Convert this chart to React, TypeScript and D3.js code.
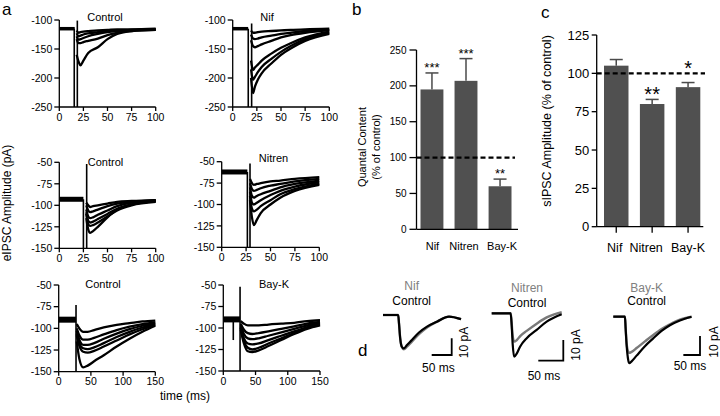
import React from 'react';
import * as d3 from 'd3';

const FONT = "'Liberation Sans', Arial, Helvetica, sans-serif";

// ---------- Panel a: eIPSC traces (time ms, amplitude pA) ----------
const aTLTime = [18, 20, 22, 25, 30, 40, 50, 60, 75, 100];
const aTLTraces = [
  [-118, -122, -121, -120, -119, -118, -117, -116, -116, -115],
  [-123, -128, -127, -125, -123, -121, -119, -118, -117, -116],
  [-128, -134, -133, -131, -128, -124, -121, -119, -117, -116],
  [-133, -140, -140, -138, -136, -132, -126, -122, -119, -117],
  [-160, -172, -178, -170, -157, -147, -133, -124, -119, -117],
];
const aTRTime = [19, 21, 23, 26, 30, 40, 50, 60, 75, 100];
const aTRTraces = [
  [-118, -122, -122, -121, -120, -119, -118, -117, -116, -115],
  [-125, -132, -133, -132, -130, -127, -124, -122, -119, -117],
  [-135, -145, -147, -145, -142, -136, -130, -126, -122, -118],
  [-170, -186, -182, -177, -170, -158, -148, -140, -130, -120],
  [-185, -203, -198, -190, -181, -167, -155, -145, -133, -122],
  [-200, -226, -215, -203, -192, -175, -160, -149, -136, -124],
];
const aMLTime = [28, 30, 32, 35, 40, 50, 60, 75, 100];
const aMLTraces = [
  [-97, -100, -102, -101, -100, -98, -96, -95, -94],
  [-100, -106, -108, -107, -105, -101, -98, -96, -94],
  [-105, -113, -115, -114, -111, -106, -101, -97, -95],
  [-108, -118, -120, -119, -116, -110, -104, -99, -95],
  [-110, -122, -124, -123, -120, -113, -106, -100, -96],
  [-115, -128, -132, -130, -125, -114, -105, -99, -95],
];
const aMRTime = [29, 31, 33, 36, 40, 50, 60, 75, 100];
const aMRTraces = [
  [-70, -75, -77, -76, -75, -73, -72, -70, -68],
  [-75, -82, -84, -83, -81, -78, -76, -73, -70],
  [-80, -90, -92, -90, -88, -84, -80, -76, -72],
  [-85, -98, -100, -98, -95, -89, -84, -79, -74],
  [-90, -105, -108, -106, -102, -95, -88, -82, -76],
  [-95, -115, -124, -118, -110, -100, -92, -84, -77],
];
const aBLTime = [28, 32, 38, 45, 55, 70, 90, 110, 130, 150];
const aBLTraces = [
  [-95, -100, -104, -104, -102, -99, -96, -94, -92, -91],
  [-100, -108, -113, -113, -111, -107, -102, -98, -95, -93],
  [-103, -113, -119, -119, -117, -112, -106, -101, -97, -94],
  [-106, -117, -123, -124, -122, -117, -110, -104, -99, -95],
  [-108, -120, -127, -128, -126, -121, -114, -107, -101, -96],
  [-115, -135, -145, -143, -138, -131, -121, -112, -104, -97],
];
const aBRTime = [27, 32, 38, 45, 55, 70, 90, 110, 130, 150];
const aBRTraces = [
  [-92, -95, -97, -97, -97, -96, -95, -94, -92, -91],
  [-95, -102, -106, -107, -106, -104, -101, -98, -95, -93],
  [-97, -107, -112, -113, -112, -109, -105, -101, -97, -94],
  [-99, -112, -118, -119, -118, -114, -109, -104, -99, -95],
  [-100, -115, -123, -125, -123, -118, -112, -106, -100, -96],
  [-102, -118, -127, -128, -126, -121, -114, -107, -101, -97],
];
const aTicks100 = [0, 25, 50, 75, 100];
const aTicks150 = [0, 50, 100, 150];
const aYTicksTop = [-100, -150, -200, -250];
const aYTicksLow = [-50, -75, -100, -125, -150];

// ---------- Panel b: quantal content ----------
const drugs = ['Nif', 'Nitren', 'Bay-K'];
const quantalMean = [195, 207, 60];
const quantalErr = [23, 31, 10];
const quantalStars = ['***', '***', '**'];
const quantalTicks = [0, 50, 100, 150, 200, 250];

// ---------- Panel c: sIPSC amplitude ----------
const sipscMean = [105, 80, 91];
const sipscErr = [4, 3, 3];
const sipscStars = ['', '**', '*'];
const sipscTicks = [0, 25, 50, 75, 100, 125];

// ---------- Panel d: averaged sIPSCs ----------
const d1Time = [0, 38, 40, 43, 47, 52, 60, 70, 90, 110, 135, 165, 195];
const d1Control = [0, 0, -5, -14, -19, -20, -18, -15.5, -10.5, -7, -4, -1, -2.5];
const d1Drug = [0, 0, -5, -14, -19, -20.5, -19, -16.5, -11.5, -7.5, -4, -1, -2.5];
const d2Time = [0, 38, 40, 42, 45, 50, 57, 70, 90, 110, 125, 140];
const d2Control = [0, 0, -6, -15, -21, -19.5, -16, -12, -8, -4, -2, -0.5];
const d2Drug = [0, 0, -5, -11, -13.7, -13, -11, -8.5, -5, -2, -0.5, 0.5];
const d3Time = [0, 35, 37, 40, 45, 48, 55, 70, 95, 120, 145, 170, 200, 235];
const d3Control = [0, 0, -6, -15, -23, -24.5, -23.5, -20.5, -15.5, -11.4, -7.5, -4.5, -2, 0];
const d3Drug = [0, 0, -6, -14, -18.5, -19, -18.5, -16.5, -13, -9.6, -6.5, -4, -1.5, 0];

type TP = {
  xr: [number, number]; yr: [number, number]; xd: [number, number]; yd: [number, number];
  xTicks: number[]; yTicks: number[]; title: string; tx: number; ty: number;
  time: number[]; traces: number[][]; baseline: number; baseEnd: number;
  artifacts: [number, number, number][]; baseW: number;
};

function TracePanel(p: TP) {
  const x = d3.scaleLinear().domain(p.xd).range(p.xr);
  const y = d3.scaleLinear().domain(p.yd).range(p.yr);
  const line = d3.line<[number, number]>().x(d => x(d[0])).y(d => y(d[1])).curve(d3.curveMonotoneX);
  const ax = p.xr[0];
  const ay = p.yr[0];
  return (
    <g>
      <line x1={x(0)} x2={x(p.baseEnd)} y1={y(p.baseline)} y2={y(p.baseline)} stroke="#000" strokeWidth={p.baseW} />
      {p.artifacts.map((a, i) => (
        <line key={i} x1={x(a[0])} x2={x(a[0])} y1={y(a[1])} y2={y(a[2])} stroke="#000" strokeWidth={1.6} />
      ))}
      {p.traces.map((tr, i) => (
        <path key={i} d={line(p.time.map((t, j) => [t, tr[j]] as [number, number])) || ''} fill="none" stroke="#000" strokeWidth={2.3} />
      ))}
      <line x1={ax} x2={ax} y1={p.yr[1]} y2={ay} stroke="#000" strokeWidth={1.3} />
      <line x1={ax} x2={p.xr[1]} y1={ay} y2={ay} stroke="#000" strokeWidth={1.3} />
      {p.yTicks.map(t => (
        <g key={t}>
          <line x1={ax - 5} x2={ax} y1={y(t)} y2={y(t)} stroke="#000" strokeWidth={1.3} />
          <text x={ax - 7} y={y(t)} dy="0.36em" textAnchor="end" fontSize={10.5}>{t}</text>
        </g>
      ))}
      {p.xTicks.map(t => (
        <g key={t}>
          <line x1={x(t)} x2={x(t)} y1={ay} y2={ay + 4} stroke="#000" strokeWidth={1.3} />
          <text x={x(t)} y={ay + 13.5} textAnchor="middle" fontSize={10.5}>{t}</text>
        </g>
      ))}
      <text x={p.tx} y={p.ty} dy="0.36em" textAnchor="middle" fontSize={11}>{p.title}</text>
    </g>
  );
}

type BP = {
  axisX: number; axisEnd: number; yTop: number; yBot: number; domainMax: number;
  bandRange: [number, number]; pad: number; means: number[]; errs: number[]; stars: string[];
  ticks: number[]; tickFont: number; tickLen: number; tickGap: number; labelFont: number; labelY: number; labelShift: number[];
  starFont: number; starOffset: number[]; xTickMarks: boolean; dashEnd: number; capW: number;
};

function BarPanel(p: BP) {
  const y = d3.scaleLinear().domain([0, p.domainMax]).range([p.yBot, p.yTop]);
  const x = d3.scaleBand().domain(drugs).range(p.bandRange).paddingInner(p.pad).paddingOuter(0);
  const bw = x.bandwidth();
  return (
    <g>
      {drugs.map((d, i) => {
        const cx = (x(d) || 0) + bw / 2;
        const top = y(p.means[i]);
        const cap = y(p.means[i] + p.errs[i]);
        return (
          <g key={d}>
            <line x1={cx} x2={cx} y1={top} y2={cap} stroke="#4a4a4a" strokeWidth={1.5} />
            <line x1={cx - p.capW / 2} x2={cx + p.capW / 2} y1={cap} y2={cap} stroke="#4a4a4a" strokeWidth={1.5} />
            <rect x={x(d)} y={top} width={bw} height={p.yBot - top} fill="#505050" />
            {p.stars[i] && (
              <text x={cx} y={cap + p.starOffset[i]} textAnchor="middle" fontSize={p.starFont}>{p.stars[i]}</text>
            )}
            {p.xTickMarks && <line x1={cx} x2={cx} y1={p.yBot} y2={p.yBot + 6} stroke="#000" strokeWidth={1.3} />}
            <text x={cx + p.labelShift[i]} y={p.labelY} textAnchor="middle" fontSize={p.labelFont}>{d}</text>
          </g>
        );
      })}
      <line x1={p.axisX} x2={p.dashEnd} y1={y(100)} y2={y(100)} stroke="#000" strokeWidth={2.4} strokeDasharray="5,3" />
      <line x1={p.axisX} x2={p.axisX} y1={p.yTop} y2={p.yBot} stroke="#000" strokeWidth={1.3} />
      <line x1={p.axisX} x2={p.axisEnd} y1={p.yBot} y2={p.yBot} stroke="#000" strokeWidth={1.3} />
      {p.ticks.map(t => (
        <g key={t}>
          <line x1={p.axisX - p.tickLen} x2={p.axisX} y1={y(t)} y2={y(t)} stroke="#000" strokeWidth={1.3} />
          <text x={p.axisX - p.tickGap} y={y(t)} dy="0.36em" textAnchor="end" fontSize={p.tickFont}>{t}</text>
        </g>
      ))}
    </g>
  );
}

type DP = {
  x0: number; y0: number; msPx: number; pAPx: number; time: number[]; ctrl: number[]; drug: number[];
  drugName: string; labelX: number; drugY: number; ctrlY: number;
  barX: number; barY: number; msText: [number, number]; pAText: [number, number];
};

function AvgTrace(p: DP) {
  const x = d3.scaleLinear().domain([0, 1]).range([p.x0, p.x0 + p.msPx]);
  const y = d3.scaleLinear().domain([0, -1]).range([p.y0, p.y0 + p.pAPx]);
  const line = d3.line<[number, number]>().x(d => x(d[0])).y(d => y(d[1])).curve(d3.curveMonotoneX);
  const sx = d3.scaleLinear().domain([0, 50]).range([0, 50 * p.msPx]);
  const sy = d3.scaleLinear().domain([0, 10]).range([0, 10 * p.pAPx]);
  return (
    <g>
      <path d={line(p.time.map((t, j) => [t, p.drug[j]] as [number, number])) || ''} fill="none" stroke="#7a7a7a" strokeWidth={2.4} />
      <path d={line(p.time.map((t, j) => [t, p.ctrl[j]] as [number, number])) || ''} fill="none" stroke="#000" strokeWidth={2.2} />
      <text x={p.labelX} y={p.drugY} textAnchor="middle" fontSize={12} fill="#808080">{p.drugName}</text>
      <text x={p.labelX} y={p.ctrlY} textAnchor="middle" fontSize={12}>Control</text>
      <path d={`M${p.barX - sx(50)},${p.barY}H${p.barX}V${p.barY - sy(10)}`} fill="none" stroke="#000" strokeWidth={1.8} />
      <text x={p.msText[0]} y={p.msText[1]} textAnchor="middle" fontSize={12}>50 ms</text>
      <text transform={`translate(${p.pAText[0]},${p.pAText[1]}) rotate(-90)`} textAnchor="middle" fontSize={12}>10 pA</text>
    </g>
  );
}

export default function App() {
  return (
    <svg width={720} height={416} style={{ position: 'absolute', left: 0, top: 0, background: '#fff' }} fontFamily={FONT}>
      <rect width={720} height={416} fill="#fff" />
      <text x={2} y={15} fontSize={17}>a</text>
      <text x={352} y={15} fontSize={17}>b</text>
      <text x={541} y={18} fontSize={17}>c</text>
      <text x={358} y={356} fontSize={17}>d</text>

      <TracePanel xr={[59.3, 155.7]} yr={[107, 20]} xd={[0, 100]} yd={[-250, -100]} xTicks={aTicks100} yTicks={aYTicksTop}
        title="Control" tx={105} ty={17} time={aTLTime} traces={aTLTraces} baseline={-115} baseEnd={16}
        artifacts={[[15.5, -115, -250], [18.7, -101, -250]]} baseW={3.5} />
      <TracePanel xr={[232.7, 329.3]} yr={[107, 20]} xd={[0, 100]} yd={[-250, -100]} xTicks={aTicks100} yTicks={aYTicksTop}
        title="Nif" tx={267} ty={17} time={aTRTime} traces={aTRTraces} baseline={-115} baseEnd={16}
        artifacts={[[16.1, -115, -250], [19.6, -106, -250]]} baseW={3.5} />
      <TracePanel xr={[59.3, 155.7]} yr={[248.3, 162.3]} xd={[0, 100]} yd={[-150, -50]} xTicks={aTicks100} yTicks={aYTicksLow}
        title="Control" tx={105.5} ty={161.7} time={aMLTime} traces={aMLTraces} baseline={-93} baseEnd={25}
        artifacts={[[25, -93, -150], [28.4, -52, -150]]} baseW={5} />
      <TracePanel xr={[221.7, 319.3]} yr={[247.3, 161.7]} xd={[0, 100]} yd={[-150, -50]} xTicks={aTicks100} yTicks={aYTicksLow}
        title="Nitren" tx={273.5} ty={157.7} time={aMRTime} traces={aMRTraces} baseline={-62} baseEnd={26.3}
        artifacts={[[26.3, -62, -150], [29, -52, -150]]} baseW={5} />
      <TracePanel xr={[58.7, 155.3]} yr={[371.7, 285]} xd={[0, 150]} yd={[-150, -50]} xTicks={aTicks150} yTicks={aYTicksLow}
        title="Control" tx={103} ty={284} time={aBLTime} traces={aBLTraces} baseline={-90} baseEnd={26.9}
        artifacts={[[26.9, -73, -150]]} baseW={6} />
      <TracePanel xr={[223.3, 320]} yr={[371, 285]} xd={[0, 150]} yd={[-150, -50]} xTicks={aTicks150} yTicks={aYTicksLow}
        title="Bay-K" tx={274} ty={284} time={aBRTime} traces={aBRTraces} baseline={-90} baseEnd={26}
        artifacts={[[26, -52, -150], [15.5, -88, -114]]} baseW={6} />

      <text transform="translate(11,203) rotate(-90)" textAnchor="middle" fontSize={12}>eIPSC Amplitude (pA)</text>
      <text x={185} y={400} textAnchor="middle" fontSize={12}>time (ms)</text>

      <BarPanel axisX={416.5} axisEnd={518} yTop={50} yBot={229.3} domainMax={250} bandRange={[420.5, 511.5]} pad={0.327}
        means={quantalMean} errs={quantalErr} stars={quantalStars} ticks={quantalTicks} tickFont={10} tickLen={7} tickGap={10}
        labelFont={11} labelY={250} labelShift={[0.5, -2, 2]} starFont={13} starOffset={[-1, -1, -1]}
        xTickMarks={false} dashEnd={515} capW={13} />
      <text transform="translate(366,147) rotate(-90)" textAnchor="middle" fontSize={11}>Quantal Content</text>
      <text transform="translate(380,147) rotate(-90)" textAnchor="middle" fontSize={11}>(% of control)</text>

      <BarPanel axisX={596.7} axisEnd={703.3} yTop={35} yBot={226.7} domainMax={125} bandRange={[604, 700.3]} pad={0.318}
        means={sipscMean} errs={sipscErr} stars={sipscStars} ticks={sipscTicks} tickFont={13} tickLen={5} tickGap={7.5}
        labelFont={12.5} labelY={251.5} labelShift={[-1.5, -6, 0]} starFont={20} starOffset={[0, 1.4, -7.3]}
        xTickMarks={true} dashEnd={705} capW={13} />
      <text transform="translate(551,121) rotate(-90)" textAnchor="middle" fontSize={12.5}>sIPSC Amplitude (% of control)</text>

      <AvgTrace x0={383} y0={315} msPx={0.4} pAPx={1.67} time={d1Time} ctrl={d1Control} drug={d1Drug}
        drugName="Nif" labelX={411.7} drugY={290} ctrlY={305} barX={451.7} barY={355}
        msText={[438.3, 371.5]} pAText={[467.5, 342.5]} />
      <AvgTrace x0={491.7} y0={313.3} msPx={0.5} pAPx={2.07} time={d2Time} ctrl={d2Control} drug={d2Drug}
        drugName="Nitren" labelX={527} drugY={291.5} ctrlY={307} barX={563.3} barY={360.7}
        msText={[544, 380]} pAText={[579.5, 345]} />
      <AvgTrace x0={613.3} y0={316.7} msPx={0.333} pAPx={1.9} time={d3Time} ctrl={d3Control} drug={d3Drug}
        drugName="Bay-K" labelX={646.7} drugY={292} ctrlY={305} barX={700} barY={355}
        msText={[690, 370]} pAText={[718, 342]} />
    </svg>
  );
}
